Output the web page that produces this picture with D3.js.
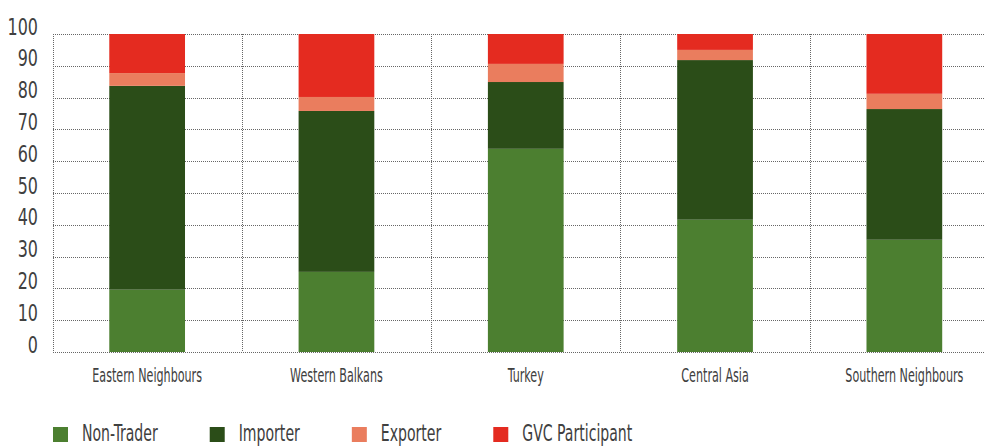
<!DOCTYPE html>
<html>
<head>
<meta charset="utf-8">
<script src="https://cdn.jsdelivr.net/npm/d3@7"></script>
<style>
  body { margin: 0; background: #fff; }
  svg { display: block; }
  text { font-family: "DejaVu Sans Condensed", "Liberation Sans Narrow", sans-serif; fill: #404040; }
  .grid line { stroke: #666; stroke-width: 1; stroke-dasharray: 1 1; shape-rendering: crispEdges; }
</style>
</head>
<body>
<svg id="chart" width="985" height="446"></svg>
<script>
// data (percent of firms)
const regions = ["Eastern Neighbours", "Western Balkans", "Turkey", "Central Asia", "Southern Neighbours"];
const seriesNames = ["Non-Trader", "Importer", "Exporter", "GVC Participant"];
const nonTrader = [19.6, 25.2, 63.9, 41.6, 35.3];
const importer = [64.1, 50.6, 21.0, 50.2, 41.1];
const exporter = [4.0, 4.4, 5.7, 3.2, 4.8];
const gvc = [12.3, 19.8, 9.4, 5.0, 18.8];
const yTicks = [0, 10, 20, 30, 40, 50, 60, 70, 80, 90, 100];

const colors = ["#4c7f30", "#2b4d18", "#ea7d5e", "#e42b20"];

// plot box - it runs past the right edge of the picture, as in the source
const plotLeft = 52.5, plotRight = 999, plotTop = 34, plotBottom = 352;

// condensed look: squeeze the text horizontally
const squeezeY = 0.77, squeezeX = 0.62, squeezeLegend = 0.68;

const svg = d3.select("#chart");

const rows = regions.map((r, i) => ({
    region: r,
    "Non-Trader": nonTrader[i],
    "Importer": importer[i],
    "Exporter": exporter[i],
    "GVC Participant": gvc[i]
}));

const x = d3.scaleBand()
    .domain(regions)
    .range([plotLeft, plotRight])
    .paddingInner(0.6)
    .paddingOuter(0.3);

const y = d3.scaleLinear().domain([0, 100]).range([plotBottom, plotTop]);

const step = x.step();

// grid
const grid = svg.append("g").attr("class", "grid");
grid.selectAll("line.h")
    .data(yTicks)
    .enter().append("line")
    .attr("class", "h")
    .attr("x1", plotLeft).attr("x2", plotRight)
    .attr("y1", d => Math.round(y(d)) + 0.5)
    .attr("y2", d => Math.round(y(d)) + 0.5);

grid.selectAll("line.v")
    .data(d3.range(regions.length + 1))
    .enter().append("line")
    .attr("class", "v")
    .attr("x1", i => Math.round(plotLeft + i * step) + 0.5)
    .attr("x2", i => Math.round(plotLeft + i * step) + 0.5)
    .attr("y1", plotTop).attr("y2", plotBottom);

// stacked bars
const stack = d3.stack().keys(seriesNames);
const layers = stack(rows);

svg.append("g")
  .selectAll("g")
  .data(layers)
  .enter().append("g")
    .attr("fill", (d, i) => colors[i])
  .selectAll("rect")
  .data(d => d)
  .enter().append("rect")
    .attr("x", d => x(d.data.region))
    .attr("width", x.bandwidth())
    .attr("y", d => y(d[1]))
    .attr("height", d => y(d[0]) - y(d[1]));

// y axis labels
const yAxis = d3.axisLeft(y).tickValues(yTicks).tickSize(0).tickPadding(0);
const yg = svg.append("g")
    .attr("transform", `translate(38,0)`)
    .call(yAxis);
yg.select(".domain").remove();
yg.selectAll("text")
    .attr("x", 0)
    .attr("dy", "0")
    .attr("font-size", 23)
    .attr("font-family", null)
    .attr("fill", "#404040")
    .attr("transform", `scale(${squeezeY},1)`);

// x axis labels
const xAxis = d3.axisBottom(x).tickSize(0).tickPadding(0);
const xg = svg.append("g")
    .attr("transform", `translate(0,382)`)
    .call(xAxis);
xg.select(".domain").remove();
xg.selectAll("text")
    .attr("y", 0)
    .attr("dy", "0")
    .attr("font-size", 20)
    .attr("font-family", null)
    .attr("fill", "#404040")
    .attr("transform", `scale(${squeezeX},1)`);

// legend
const legend = svg.append("g").attr("transform", "translate(53,442)");
let lx = 0;
seriesNames.forEach((name, i) => {
    const item = legend.append("g").attr("transform", `translate(${lx},0)`);
    item.append("rect")
        .attr("x", 0).attr("y", -15)
        .attr("width", 15).attr("height", 15)
        .attr("fill", colors[i]);
    const t = item.append("text")
        .attr("x", 0).attr("y", -1)
        .attr("font-size", 23)
        .attr("transform", `translate(29,0) scale(${squeezeLegend},1)`)
        .text(name);
    const w = t.node().getComputedTextLength() * squeezeLegend;
    lx += 29 + w + 52;
});
</script>
</body>
</html>
